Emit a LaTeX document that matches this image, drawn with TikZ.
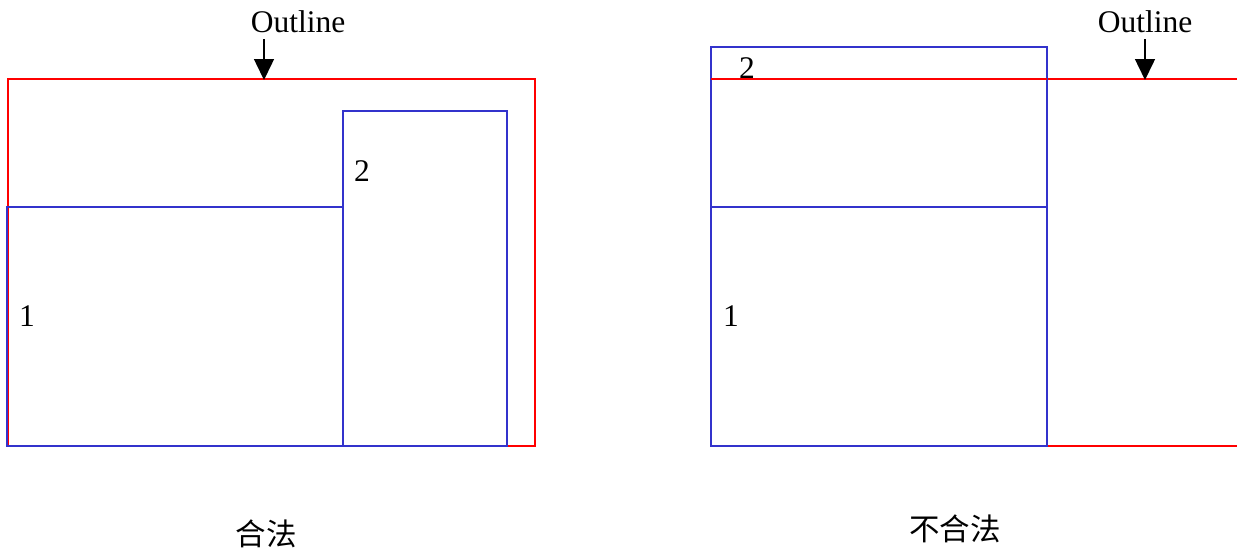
\documentclass[tikz,border=0pt]{standalone}
\usepackage{fontspec}
\setmainfont{Liberation Serif}
\newfontfamily\cjk{Noto Sans CJK SC}
\usetikzlibrary{arrows.meta}
\definecolor{outred}{RGB}{255,0,0}
\definecolor{modblue}{RGB}{51,51,204}
\tikzset{
  redbox/.style={draw=outred, line width=2pt, inner sep=0pt, outer sep=0pt},
  bluebox/.style={draw=modblue, line width=2pt, inner sep=0pt, outer sep=0pt},
  lbl/.style={font=\fontsize{31.5}{33}\selectfont, inner sep=0pt},
  cjklbl/.style={font=\cjk\fontsize{30.5}{32}\selectfont, inner sep=0pt},
  arr/.style={line width=1.5pt, -{Triangle[width=20pt,length=21pt]}, shorten >=-1pt}
}
\begin{document}
\begin{tikzpicture}[x=1pt,y=-1pt]
\useasboundingbox (0,0) rectangle (1237,552);
% left: legal
\node[redbox, minimum width=527pt, minimum height=367pt] (outL) at (271.5,262.5) {};
\node[bluebox, minimum width=336pt, minimum height=239pt] (b1L) at (175,326.5) {};
\node[bluebox, minimum width=164pt, minimum height=335pt] (b2L) at (425,278.5) {};
\node[lbl, anchor=base] (o1) at (298,32) {Outline};
\coordinate (a1) at (264,39);
\draw[arr] (a1) -- (a1 |- outL.north);
\node[lbl] (n2L) at (362,171) {2};
\node[lbl] (n1L) at (27,316) {1};
\node[cjklbl] (legal) at (266,534) {合法};
% right: illegal
\begin{scope}
\clip (0,0) rectangle (1237,552);
\node[redbox, minimum width=530pt, minimum height=367pt] (outR) at (976,262.5) {};
\end{scope}
\node[bluebox, minimum width=336pt, minimum height=239pt] (b1R) at (879,326.5) {};
\node[bluebox, minimum width=336pt, minimum height=160pt] (b2R) at (879,127) {};
\draw[outred, line width=2pt] (b2R.west |- outR.north) -- (b2R.east |- outR.north);
\node[lbl, anchor=base] (o2) at (1145,32) {Outline};
\coordinate (a2) at (1145,39);
\draw[arr] (a2) -- (a2 |- outR.north);
\node[lbl] (n2R) at (747,68) {2};
\node[lbl] (n1R) at (731,316) {1};
\node[cjklbl] (illegal) at (955,529) {不合法};
\end{tikzpicture}
\end{document}
